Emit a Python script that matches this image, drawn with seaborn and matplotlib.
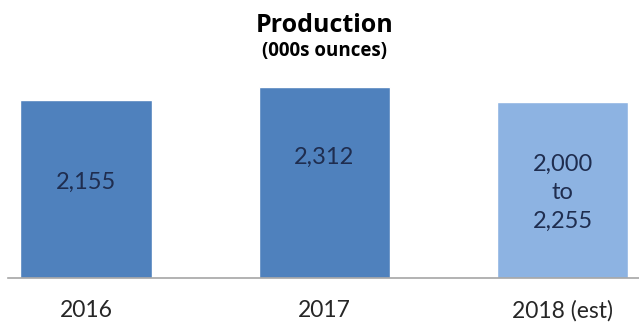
import matplotlib
matplotlib.use("Agg")
import matplotlib.pyplot as plt
import seaborn as sns
import pandas as pd

categories = ["2016", "2017", "2018 (est)"]
values = [2155, 2312, 2127.5]          # 2018 drawn at midpoint of guidance range
bar_texts = ["2,155", "2,312", "2,000\nto\n2,255"]
text_frac = [0.54, 0.63, 0.484]
colors = ["#4F81BD", "#4F81BD", "#8DB3E2"]

sns.set_theme(style="white")
plt.rcParams['font.family'] = ['Lato', 'DejaVu Sans']

df = pd.DataFrame({"cat": categories, "val": values})

fig = plt.figure(figsize=(6.39, 3.25), dpi=100)
ax = fig.add_axes([8/639, 1-278/325, 631/639, (278-80)/325])
sns.barplot(data=df, x="cat", y="val", hue="cat", palette=colors, legend=False,
            width=0.55, ax=ax, saturation=1)

ax.set_xlim(-0.327, 2.32)
ax.set_ylim(0, 2397)
for i, (v, t, f) in enumerate(zip(values, bar_texts, text_frac)):
    ax.text(i, v * f, t, ha="center", va="center", fontsize=17,
            color="#1F2D4F", linespacing=1.46)

ax.set_xlabel("")
ax.set_ylabel("")
ax.set_yticks([])
ax.tick_params(axis="x", length=0, pad=16, labelsize=16.5, labelcolor="#262626")
for s in ["top", "right", "left"]:
    ax.spines[s].set_visible(False)
ax.spines["bottom"].set_color("#A6A6A6")
ax.spines["bottom"].set_linewidth(1.2)

fig.text(325/639, 1-26/325, "Production", ha="center", va="center",
         fontsize=18, fontweight="bold", family=["Open Sans", "DejaVu Sans"], color="black")
fig.text(325/639, 1-51/325, "(000s ounces)", ha="center", va="center",
         fontsize=13.5, fontweight="bold", family=["Open Sans", "DejaVu Sans"], color="black")

fig.savefig("out.png", dpi=100)
